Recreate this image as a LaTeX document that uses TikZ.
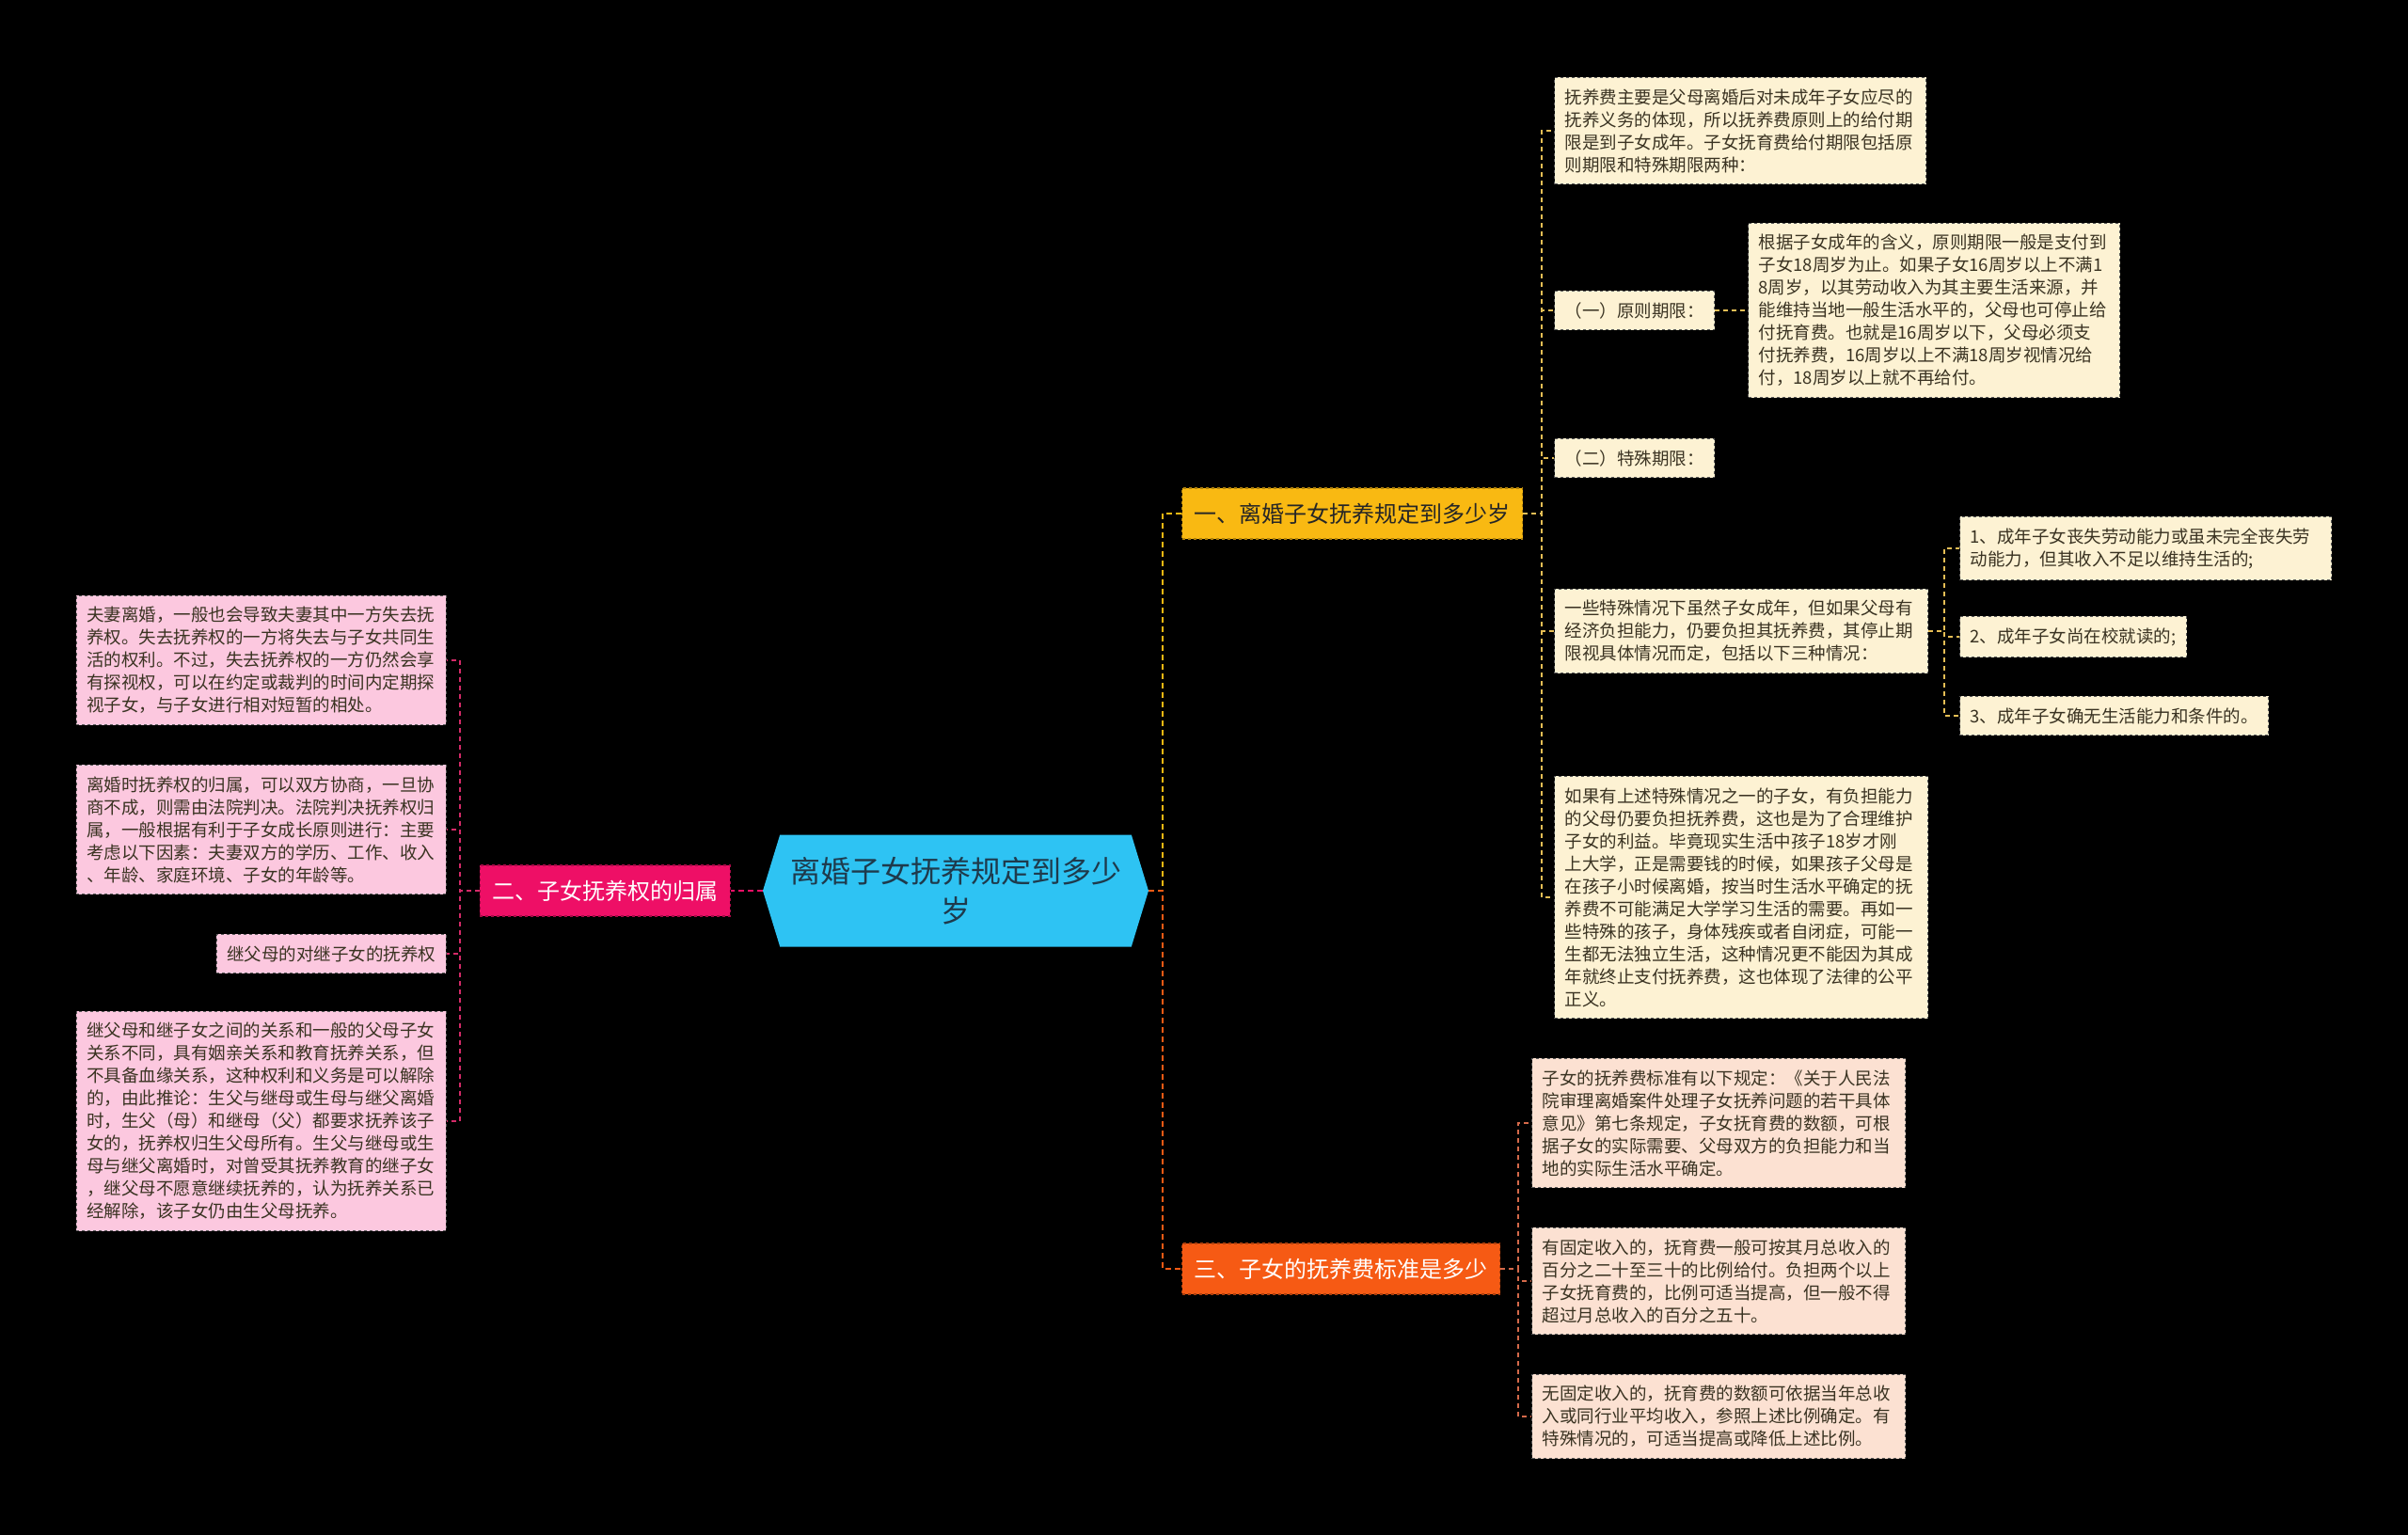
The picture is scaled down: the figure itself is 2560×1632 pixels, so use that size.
\documentclass[tikz,border=0pt]{standalone}
\usepackage{fontspec}
\setmainfont{Noto Sans CJK SC}
\usetikzlibrary{shapes.symbols}

\definecolor{rootcyan}{HTML}{2EC3F3}
\definecolor{rootink}{HTML}{1E3A4C}
\definecolor{yellowbr}{HTML}{F9B912}
\definecolor{orangebr}{HTML}{F65A14}
\definecolor{pinkbr}{HTML}{EE0F66}
\definecolor{creamleaf}{HTML}{FDF2D3}
\definecolor{peachleaf}{HTML}{FCE1D2}
\definecolor{pinkleaf}{HTML}{FCC8DF}
\definecolor{goldline}{HTML}{E6BE55}
\definecolor{salmonline}{HTML}{D4694A}
\definecolor{roseline}{HTML}{D42A68}
\definecolor{leafink}{HTML}{3A3322}

\begin{document}
\begin{tikzpicture}[x=1pt,y=-1pt,
  font=\fontsize{18.5}{24}\selectfont,
  root/.style={shape=signal,signal to=east and west,signal pointer angle=146,
    fill=rootcyan,text=rootink,minimum width=410pt,minimum height=119pt,
    align=center,font=\fontsize{32}{42}\selectfont,inner sep=0pt},
  branch/.style={draw=#1!70!black,dashed,line width=1.2pt,fill=#1,
    minimum height=54pt,inner xsep=13pt,font=\fontsize{24}{30}\selectfont,anchor=west},
  leaf/.style={draw=black!65,dashed,line width=1.2pt,fill=#1,text=leafink,
    inner xsep=11pt,inner ysep=12pt,anchor=west,align=left},
  wide/.style={text width=#1},
  link/.style={draw=#1,dash pattern=on 6pt off 4pt,line width=2pt},
  sublink/.style={draw=#1,dash pattern=on 5pt off 4pt,line width=1.6pt}]
\useasboundingbox (0,0) rectangle (2560,1632);
\fill[black] (0,0) rectangle (2560,1632);

% centre and main branches
\node[root] (root) at (1016,947) {离婚子女抚养规定到多少\\岁};
\node[branch=yellowbr,text=black!85] (b1) at (1256,546) {一、离婚子女抚养规定到多少岁};
\node[branch=orangebr,text=white] (b3) at (1256,1349) {三、子女的抚养费标准是多少};
\node[branch=pinkbr,text=white,anchor=east] (b2) at (777,947) {二、子女抚养权的归属};

% branch 1
\node[leaf=creamleaf,wide=373pt] (c1) at (1652,139) {抚养费主要是父母离婚后对未成年子女应尽的\\
抚养义务的体现，所以抚养费原则上的给付期\\
限是到子女成年。子女抚育费给付期限包括原\\
则期限和特殊期限两种：};
\node[leaf=creamleaf] (c2) at (1652,330) {（一）原则期限：};
\node[leaf=creamleaf,wide=373pt] (c2a) at (1858,330) {根据子女成年的含义，原则期限一般是支付到\\
子女18周岁为止。如果子女16周岁以上不满1\\
8周岁，以其劳动收入为其主要生活来源，并\\
能维持当地一般生活水平的，父母也可停止给\\
付抚育费。也就是16周岁以下，父母必须支\\
付抚养费，16周岁以上不满18周岁视情况给\\
付，18周岁以上就不再给付。};
\node[leaf=creamleaf] (c3) at (1652,487) {（二）特殊期限：};
\node[leaf=creamleaf,wide=375pt] (c4) at (1652,671) {一些特殊情况下虽然子女成年，但如果父母有\\
经济负担能力，仍要负担其抚养费，其停止期\\
限视具体情况而定，包括以下三种情况：};
\node[leaf=creamleaf,wide=373pt] (c4a) at (2083,583) {1、成年子女丧失劳动能力或虽未完全丧失劳\\
动能力，但其收入不足以维持生活的;};
\node[leaf=creamleaf] (c4b) at (2083,677) {2、成年子女尚在校就读的;};
\node[leaf=creamleaf] (c4c) at (2083,761) {3、成年子女确无生活能力和条件的。};
\node[leaf=creamleaf,wide=375pt] (c5) at (1652,954) {如果有上述特殊情况之一的子女，有负担能力\\
的父母仍要负担抚养费，这也是为了合理维护\\
子女的利益。毕竟现实生活中孩子18岁才刚\\
上大学，正是需要钱的时候，如果孩子父母是\\
在孩子小时候离婚，按当时生活水平确定的抚\\
养费不可能满足大学学习生活的需要。再如一\\
些特殊的孩子，身体残疾或者自闭症，可能一\\
生都无法独立生活，这种情况更不能因为其成\\
年就终止支付抚养费，这也体现了法律的公平\\
正义。};

% branch 3
\node[leaf=peachleaf,wide=375pt] (d1) at (1628,1194) {子女的抚养费标准有以下规定：《关于人民法\\
院审理离婚案件处理子女抚养问题的若干具体\\
意见》第七条规定，子女抚育费的数额，可根\\
据子女的实际需要、父母双方的负担能力和当\\
地的实际生活水平确定。};
\node[leaf=peachleaf,wide=375pt] (d2) at (1628,1362) {有固定收入的，抚育费一般可按其月总收入的\\
百分之二十至三十的比例给付。负担两个以上\\
子女抚育费的，比例可适当提高，但一般不得\\
超过月总收入的百分之五十。};
\node[leaf=peachleaf,wide=375pt] (d3) at (1628,1506) {无固定收入的，抚育费的数额可依据当年总收\\
入或同行业平均收入，参照上述比例确定。有\\
特殊情况的，可适当提高或降低上述比例。};

% branch 2
\node[leaf=pinkleaf,wide=371pt,anchor=east] (e1) at (475,702) {夫妻离婚，一般也会导致夫妻其中一方失去抚\\
养权。失去抚养权的一方将失去与子女共同生\\
活的权利。不过，失去抚养权的一方仍然会享\\
有探视权，可以在约定或裁判的时间内定期探\\
视子女，与子女进行相对短暂的相处。};
\node[leaf=pinkleaf,wide=371pt,anchor=east] (e2) at (475,882) {离婚时抚养权的归属，可以双方协商，一旦协\\
商不成，则需由法院判决。法院判决抚养权归\\
属，一般根据有利于子女成长原则进行：主要\\
考虑以下因素：夫妻双方的学历、工作、收入\\
、年龄、家庭环境、子女的年龄等。};
\node[leaf=pinkleaf,anchor=east] (e3) at (475,1014) {继父母的对继子女的抚养权};
\node[leaf=pinkleaf,wide=371pt,anchor=east] (e4) at (475,1192) {继父母和继子女之间的关系和一般的父母子女\\
关系不同，具有姻亲关系和教育抚养关系，但\\
不具备血缘关系，这种权利和义务是可以解除\\
的，由此推论：生父与继母或生母与继父离婚\\
时，生父（母）和继母（父）都要求抚养该子\\
女的，抚养权归生父母所有。生父与继母或生\\
母与继父离婚时，对曾受其抚养教育的继子女\\
，继父母不愿意继续抚养的，认为抚养关系已\\
经解除，该子女仍由生父母抚养。};

% connectors
\draw[link=yellowbr] (root.east) -- ++(15,0) |- (b1.west);
\draw[link=orangebr] (root.east) -- ++(15,0) |- (b3.west);
\draw[link=pinkbr] (root.west) -- (b2.east);
\foreach \leafname in {c1,c2,c3,c4,c5}
  \draw[sublink=goldline] (b1.east) -- ++(20,0) |- (\leafname.west);
\draw[sublink=goldline] (c2.east) -- (c2a.west);
\foreach \leafname in {c4a,c4b,c4c}
  \draw[sublink=goldline] (c4.east) -- ++(17,0) |- (\leafname.west);
\foreach \leafname in {d1,d2,d3}
  \draw[sublink=salmonline] (b3.east) -- ++(19,0) |- (\leafname.west);
\foreach \leafname in {e1,e2,e3,e4}
  \draw[sublink=roseline] (b2.west) -- ++(-21,0) |- (\leafname.east);
\end{tikzpicture}
\end{document}
